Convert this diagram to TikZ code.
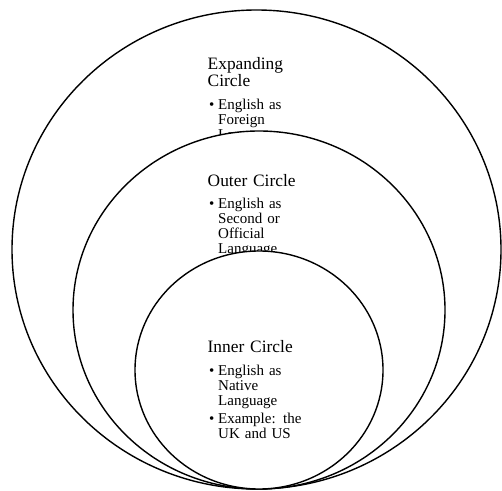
\documentclass[tikz,border=0pt]{standalone}
\usepackage{fontspec}
\setmainfont{Liberation Serif}
\usetikzlibrary{shapes.geometric}

\begin{document}
\begin{tikzpicture}[x=1pt,y=1pt,
   ring/.style={ellipse,draw,fill=white,line width=1.4pt,inner sep=0pt},
   head/.style={anchor=base west,inner sep=0pt,text width=100pt,
                font=\fontsize{17.4}{17}\selectfont},
   dot/.style={anchor=base west,inner sep=0pt,font=\fontsize{15}{15}\selectfont},
   item/.style={anchor=base west,inner sep=0pt,text width=90pt,
                font=\fontsize{15}{15}\selectfont}]
   \useasboundingbox (0,0) rectangle (502,490);

   % expanding circle
   \node[ring,minimum width=489pt,minimum height=479pt] (expand) at (256.5,240.5) {};
   \node[head] (expandhd) at (207.5,420) {Expanding\\Circle};
   \node[dot]  (expanddot) at (209,380) {\textbullet};
   \node[item] (expandit) at (218,380) {English as\\Foreign\\Language};

   % outer circle
   \node[ring,minimum width=372pt,minimum height=358pt] (outer) at (259,180) {};
   \node[head] (outerhd) at (207.5,303) {Outer Circle};
   \node[dot]  (outerdot) at (209,281) {\textbullet};
   \node[item] (outerit) at (218,281) {English as\\Second or\\Official\\Language};

   % inner circle
   \node[ring,minimum width=248pt,minimum height=238pt] (inner) at (259,120) {};
   \node[head] (innerhd) at (207.5,138) {Inner Circle};
   \node[dot]  (innerdota) at (209,115) {\textbullet};
   \node[item] (innerita) at (218,115) {English as\\Native\\Language};
   \node[dot]  (innerdotb) at (209,67) {\textbullet};
   \node[item] (inneritb) at (218,67) {Example: the\\UK and US};
\end{tikzpicture}
\end{document}
